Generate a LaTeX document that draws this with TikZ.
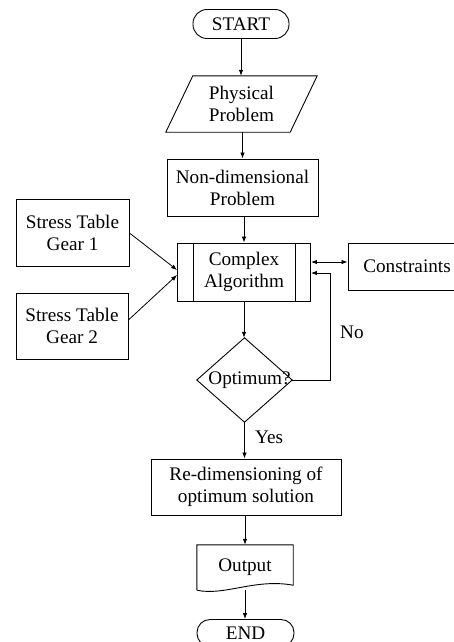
\documentclass[tikz,border=0pt]{standalone}
\usepackage{fontspec}
\setmainfont{Liberation Serif}
\usetikzlibrary{arrows.meta,calc}
\begin{document}
\begin{tikzpicture}[x=1pt,y=-1pt,
  every node/.style={font=\fontsize{19.2}{22}\selectfont, align=center, inner sep=0pt},
  box/.style={draw, rectangle, line width=0.9pt},
  term/.style={draw, rectangle, rounded corners=14pt, line width=0.9pt, minimum width=96pt, minimum height=29pt},
  arr/.style={-{Latex[length=6pt,width=4.5pt]}, line width=0.8pt},
  arrtwo/.style={{Latex[length=6pt,width=4.5pt]}-{Latex[length=6pt,width=4.5pt]}, line width=0.8pt},
  plain/.style={line width=0.9pt},
]
\useasboundingbox (0,0) rectangle (454,642);
\clip (0,0) rectangle (454,642);

% main column
\node[term] (start) at (241,24) {START};
\node[minimum width=151pt, minimum height=56pt] (phys) at (241.5,104) {Physical\\Problem};
\draw[plain] ($(phys.north west)+(27,0)$) -- (phys.north east) -- ($(phys.south east)+(-27,0)$) -- (phys.south west) -- cycle;
\node[box, minimum width=151pt, minimum height=57pt] (nondim) at (242.5,187.5) {Non-dimensional\\Problem};
\node[box, minimum width=133pt, minimum height=58pt] (cx) at (244,272) {Complex\\Algorithm};
\draw[plain] ([xshift=16pt]cx.north west) -- ([xshift=16pt]cx.south west);
\draw[plain] ([xshift=-16pt]cx.north east) -- ([xshift=-16pt]cx.south east);

\node[box, minimum width=113pt, minimum height=67pt] (g1) at (72.5,232.5) {Stress Table\\Gear 1};
\node[box, minimum width=112pt, minimum height=66pt] (g2) at (72,326) {Stress Table\\Gear 2};
\node[box, minimum width=118pt, minimum height=47pt] (con) at (407,266.5) {Constraints};

\node[minimum width=95pt, minimum height=84pt] (dia) at (244.5,380) {};
\draw[plain] (dia.north) -- (dia.east) -- (dia.south) -- (dia.west) -- cycle;
\node (opt) at (249.5,380) {Optimum?};

\node[box, minimum width=190pt, minimum height=56pt] (redim) at (246,487) {Re-dimensioning of\\optimum solution};

\node[minimum width=96pt, minimum height=45pt] (out) at (245,567.5) {Output};
\draw[plain] (out.south west) -- (out.north west) -- (out.north east) -- ($(out.south east)+(0,-5)$)
  .. controls ($(out.south west)+(58,-12)$) and ($(out.south west)+(28,6)$) .. (out.south west);

\node[term, minimum width=97pt, minimum height=27pt, rounded corners=13pt] (end) at (245.5,633) {END};

\node[anchor=west] (nolab) at (340,332) {No};
\node[anchor=west] (yeslab) at (255,437) {Yes};

% connectors
\draw[arr] (start.south) -- (start.south |- phys.north);
\draw[arr] (phys.south -| nondim.north) -- (nondim.north);
\draw[arr] (cx.north |- nondim.south) -- (cx.north);
\draw[arr] ([yshift=-0.5pt]g1.east) -- ([yshift=2pt]cx.west);
\draw[arr] ([yshift=6pt]g2.east) -- ([yshift=-3pt]cx.west);
\draw[arrtwo] ([yshift=10pt]cx.east) coordinate (ca) -- (ca -| con.west);
\draw[arr] (dia.east) -- ++(38,0) coordinate (turn) |- ([yshift=-1pt]cx.east);
\draw[arr] (cx.south) -- (cx.south |- dia.north);
\draw[arr] (dia.south) -- (dia.south |- redim.north);
\draw[arr] (redim.south -| out.north) -- (out.north);
\draw[arr] (out.south) -- (out.south |- end.north);
\end{tikzpicture}
\end{document}
